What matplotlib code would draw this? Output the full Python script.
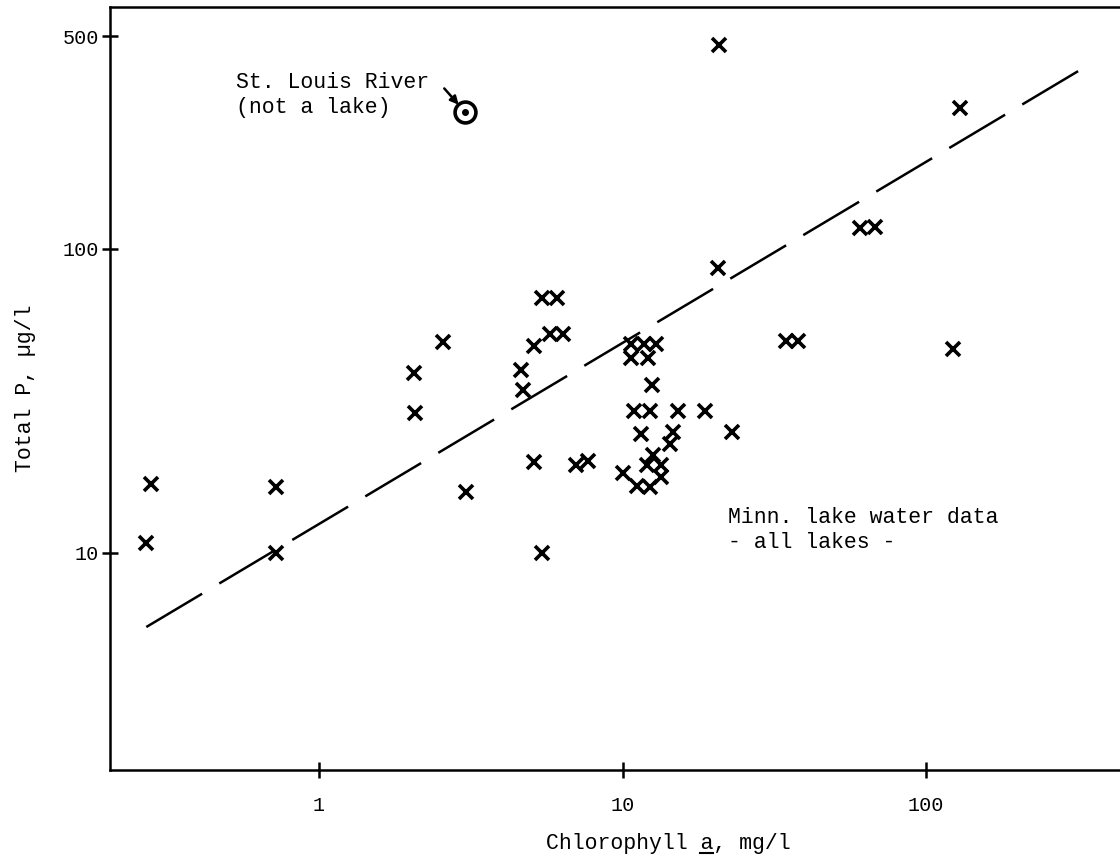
import matplotlib
matplotlib.use('Agg')
import matplotlib.pyplot as plt
from matplotlib.lines import Line2D

plt.rcParams['font.family'] = ['Liberation Mono', 'DejaVu Sans Mono']

# Minnesota lakes: chlorophyll a (x) vs total P (y)
chl = [0.28, 0.27, 0.72, 0.72, 2.06, 2.07, 2.56, 3.05, 4.63, 4.70,
       5.11, 5.43, 6.08, 5.77, 6.37, 5.11, 5.43, 7.03, 7.70, 10.0,
       10.7, 11.8, 12.9, 10.7, 12.1, 12.5, 10.9, 12.3, 15.2, 18.7,
       11.5, 14.7, 14.3, 22.9, 12.6, 12.0, 13.4, 13.4, 11.2, 12.3,
       20.6, 20.8, 34.6, 37.9, 60.6, 67.9, 129, 123]
tp = [16.9, 10.8, 16.5, 10.0, 39.2, 28.9, 49.4, 15.9, 40.0, 34.3,
      48.0, 69.0, 69.0, 52.5, 52.5, 19.9, 10.0, 19.5, 20.0, 18.3,
      48.7, 48.7, 48.7, 43.8, 43.8, 35.7, 29.3, 29.3, 29.3, 29.3,
      24.6, 25.0, 22.8, 25.0, 21.0, 19.4, 19.4, 17.8, 16.6, 16.5,
      86.6, 469, 49.8, 49.8, 117, 118, 291, 46.9]

# St. Louis River (not a lake)
river_chl = [3.03]
river_tp = [282]

# hand-drawn trend line endpoints
fit_chl = [0.27, 330]
fit_tp = [5.7, 394]

xticks = [1, 10, 100]
yticks = [10, 100, 500]
xlabel = 'Chlorophyll a, mg/l'
ylabel = 'Total P, \u00b5g/l'

fig = plt.figure(figsize=(11.2, 8.63), dpi=100)
ax = fig.add_axes([0.0982, 0.1078, 0.9018, 0.8841])
ax.set_xscale('log')
ax.set_yscale('log')
ax.set_xlim(0.205, 435)
ax.set_ylim(1.93, 625)

ax.plot(fit_chl, fit_tp, color='black', lw=1.8, linestyle=(0, (26, 8)))
ax.plot(chl, tp, linestyle='none', marker='x', ms=10, mew=2.6, color='black')
ax.plot(river_chl, river_tp, linestyle='none', marker='o', ms=15, mew=2.6,
        mfc='none', mec='black')
ax.plot(river_chl, river_tp, linestyle='none', marker='o', ms=4, color='black')

ax.text(0.1248, 0.8847, 'St. Louis River\n(not a lake)', transform=ax.transAxes,
        fontsize=15.5, va='center', ha='left')
ax.annotate('', xy=(river_chl[0], river_tp[0]), xytext=(-15, 17),
            textcoords='offset points',
            arrowprops=dict(arrowstyle='-|>', color='black', lw=1.8,
                            shrinkA=0, shrinkB=7, mutation_scale=12))
ax.text(0.612, 0.3146, 'Minn. lake water data\n- all lakes -', transform=ax.transAxes,
        fontsize=15.5, va='center', ha='left')

ax.set_xticks(xticks)
ax.set_xticklabels([str(t) for t in xticks])
ax.set_yticks(yticks)
ax.set_yticklabels([str(t) for t in yticks])
ax.minorticks_off()
ax.tick_params(direction='inout', length=12, width=1.8, labelsize=14.5)
ax.tick_params(axis='x', pad=13)
ax.tick_params(axis='y', pad=2)

for s in ['left', 'bottom', 'top']:
    ax.spines[s].set_linewidth(1.8)
ax.spines['right'].set_visible(False)

ax.set_xlabel(xlabel, fontsize=15.5)
ax.xaxis.set_label_coords(0.5525, -0.082)
ax.set_ylabel(ylabel, fontsize=15.5)
ax.yaxis.set_label_coords(-0.073, 0.5)

# underline the "a" in the x label
fig.canvas.draw()
bb = ax.xaxis.label.get_window_extent()
W, H = fig.bbox.width, fig.bbox.height
cw = bb.width / len(xlabel)
i = xlabel.index(' a,') + 1
x0, x1 = bb.x0 + i * cw, bb.x0 + (i + 1) * cw
yl = bb.y0 + 1
fig.add_artist(Line2D([x0 / W, x1 / W], [yl / H, yl / H], transform=fig.transFigure,
                      color='black', lw=1.5))

fig.savefig('out.png', dpi=100)
